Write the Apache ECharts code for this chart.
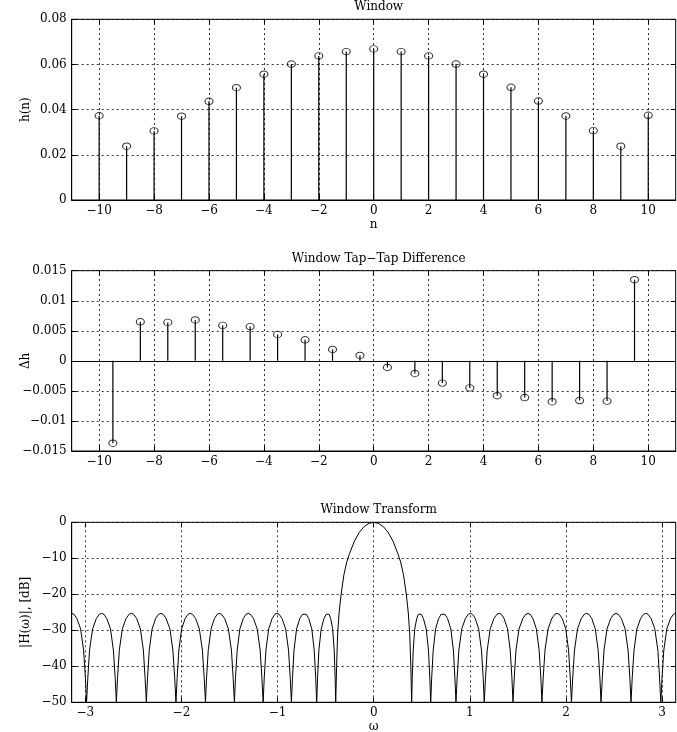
<!DOCTYPE html>
<html><head><meta charset="utf-8">
<script src="https://cdn.jsdelivr.net/npm/echarts@6/dist/echarts.min.js"></script>
<style>html,body{margin:0;padding:0;background:#fff}#c{width:677px;height:732px}</style>
</head><body><div id="c"></div>
<script>
// ---------- data ----------
const nValues = [-10,-9,-8,-7,-6,-5,-4,-3,-2,-1,0,1,2,3,4,5,6,7,8,9,10];
const hValues = [0.0373,0.0238,0.0306,0.0371,0.0437,0.0497,0.0557,0.0602,0.0638,0.0657,0.0669,
                 0.0657,0.0638,0.0602,0.0557,0.0499,0.0438,0.0372,0.0307,0.0238,0.0375];
const dnValues = [-9.5,-8.5,-7.5,-6.5,-5.5,-4.5,-3.5,-2.5,-1.5,-0.5,0.5,1.5,2.5,3.5,4.5,5.5,6.5,7.5,8.5,9.5];
const dhValues = [-0.0137,0.0065,0.0064,0.0068,0.0059,0.0057,0.0044,0.0035,0.0019,0.0009,
                  -0.0011,-0.0021,-0.0037,-0.0045,-0.0058,-0.0061,-0.0068,-0.0066,-0.0067,0.0135];
const nTicks = [-10,-8,-6,-4,-2,0,2,4,6,8,10];
const wTicks = [-3,-2,-1,0,1,2,3];
const transformOmega = [
 -3.1416,-3.118,-3.088,-3.049,-3.018,-2.999,-2.987,
 -2.974,-2.956,-2.924,-2.885,-2.854,-2.830,-2.807,-2.777,-2.738,-2.708,-2.689,-2.677,
 -2.665,-2.646,-2.615,-2.576,-2.544,-2.521,-2.498,-2.466,-2.427,-2.396,-2.378,-2.365,
 -2.353,-2.335,-2.305,-2.268,-2.238,-2.215,-2.191,-2.160,-2.120,-2.089,-2.070,-2.057,
 -2.045,-2.027,-1.998,-1.961,-1.931,-1.909,-1.885,-1.853,-1.814,-1.782,-1.763,-1.750,
 -1.739,-1.721,-1.692,-1.656,-1.628,-1.606,-1.583,-1.551,-1.512,-1.480,-1.462,-1.449,
 -1.438,-1.420,-1.392,-1.356,-1.328,-1.306,-1.283,-1.251,-1.212,-1.181,-1.163,-1.150,
 -1.139,-1.121,-1.092,-1.056,-1.028,-1.006,-0.984,-0.954,-0.916,-0.886,-0.868,-0.856,
 -0.845,-0.829,-0.802,-0.768,-0.741,-0.721,-0.702,-0.676,-0.644,-0.619,-0.603,-0.593,
 -0.584,-0.570,-0.546,-0.517,-0.494,-0.476,-0.464,-0.448,-0.427,-0.411,-0.401,-0.395,
 -0.386,-0.375,-0.36,-0.34,-0.31,-0.28,-0.25,-0.2,-0.15,-0.1,-0.05,0,
 0.05,0.1,0.15,0.2,0.25,0.28,0.31,0.34,0.36,0.375,0.386,0.395,
 0.401,0.411,0.427,0.448,0.464,0.476,0.494,0.517,0.546,0.570,0.584,0.593,
 0.603,0.619,0.644,0.676,0.702,0.721,0.741,0.768,0.802,0.829,0.845,0.856,
 0.868,0.886,0.916,0.954,0.984,1.006,1.028,1.056,1.092,1.121,1.139,1.150,
 1.163,1.181,1.212,1.251,1.283,1.306,1.328,1.356,1.392,1.420,1.438,1.449,
 1.462,1.480,1.512,1.551,1.583,1.606,1.628,1.656,1.692,1.721,1.739,1.750,
 1.763,1.782,1.814,1.853,1.885,1.909,1.931,1.961,1.998,2.027,2.045,2.057,
 2.070,2.089,2.120,2.160,2.191,2.215,2.238,2.268,2.305,2.335,2.353,2.365,
 2.378,2.396,2.427,2.466,2.498,2.521,2.544,2.576,2.615,2.646,2.665,2.677,
 2.689,2.708,2.738,2.777,2.807,2.830,2.854,2.885,2.924,2.956,2.974,2.987,
 2.999,3.018,3.049,3.088,3.118,3.1416
];
const transformDb = [
 -25.3,-25.55,-26.7,-29.6,-35.5,-43.3,-50,
 -43.3,-35.5,-29.6,-26.7,-25.55,-25.3,-25.55,-26.7,-29.6,-35.5,-43.3,-50,
 -43.3,-35.5,-29.6,-26.7,-25.55,-25.3,-25.55,-26.7,-29.6,-35.5,-43.3,-50,
 -43.3,-35.5,-29.6,-26.7,-25.55,-25.3,-25.55,-26.7,-29.6,-35.5,-43.3,-50,
 -43.3,-35.5,-29.6,-26.7,-25.55,-25.3,-25.55,-26.7,-29.6,-35.5,-43.3,-50,
 -43.3,-35.5,-29.6,-26.7,-25.55,-25.3,-25.55,-26.7,-29.6,-35.5,-43.3,-50,
 -43.3,-35.5,-29.6,-26.7,-25.55,-25.3,-25.55,-26.7,-29.6,-35.5,-43.3,-50,
 -43.3,-35.5,-29.6,-26.7,-25.55,-25.3,-25.55,-26.7,-29.6,-35.5,-43.3,-50,
 -43.3,-35.5,-29.6,-26.7,-25.55,-25.3,-25.55,-26.7,-29.6,-35.5,-43.3,-50,
 -43.3,-35.5,-29.6,-26.7,-25.55,-25.3,-25.55,-26.7,-29.6,-35.5,-43.3,-50,
 -40,-31,-25.2,-20.2,-14.6,-11,-8.6,-5.2,-2.8,-1.2,-0.3,0,
 -0.3,-1.2,-2.8,-5.2,-8.6,-11,-14.6,-20.2,-25.2,-31,-40,-50,
 -43.3,-35.5,-29.6,-26.7,-25.55,-25.3,-25.55,-26.7,-29.6,-35.5,-43.3,-50,
 -43.3,-35.5,-29.6,-26.7,-25.55,-25.3,-25.55,-26.7,-29.6,-35.5,-43.3,-50,
 -43.3,-35.5,-29.6,-26.7,-25.55,-25.3,-25.55,-26.7,-29.6,-35.5,-43.3,-50,
 -43.3,-35.5,-29.6,-26.7,-25.55,-25.3,-25.55,-26.7,-29.6,-35.5,-43.3,-50,
 -43.3,-35.5,-29.6,-26.7,-25.55,-25.3,-25.55,-26.7,-29.6,-35.5,-43.3,-50,
 -43.3,-35.5,-29.6,-26.7,-25.55,-25.3,-25.55,-26.7,-29.6,-35.5,-43.3,-50,
 -43.3,-35.5,-29.6,-26.7,-25.55,-25.3,-25.55,-26.7,-29.6,-35.5,-43.3,-50,
 -43.3,-35.5,-29.6,-26.7,-25.55,-25.3,-25.55,-26.7,-29.6,-35.5,-43.3,-50,
 -43.3,-35.5,-29.6,-26.7,-25.55,-25.3,-25.55,-26.7,-29.6,-35.5,-43.3,-50,
 -43.3,-35.5,-29.6,-26.7,-25.55,-25.3
];

// ---------- styling / layout ----------
const FONT = 'DejaVu Serif';
const txt = {color:'#000', fontFamily:FONT, fontSize:12};
const fmt = v => String(parseFloat(Number(v).toFixed(6))).replace('-', '\u2212');
const dotted = {color:'#000', type:[2,3], width:0.8};
const L = 71.7, W = 604;
const grids = [
  {left:L, top:19.3, width:W, height:180.7},
  {left:L, top:270.7, width:W, height:180.3},
  {left:L, top:522.3, width:W, height:180}
].map(g => Object.assign(g, {show:true, borderColor:'#000', borderWidth:1, backgroundColor:'transparent',
                             containLabel:false, outerBoundsMode:'none'}));

function xPair(gi, min, max, ticks, name) {
  return [
    {type:'value', gridIndex:gi, min, max, position:'bottom',
     axisLine:{show:true, onZero:false, lineStyle:{color:'#000', width:1}},
     axisTick:{show:true, inside:true, length:5, customValues:ticks, lineStyle:{color:'#000'}},
     axisLabel:Object.assign({customValues:ticks, formatter:fmt, margin:5}, txt),
     splitLine:{show:false},
     name:name||'', nameLocation:'middle', nameGap:19, nameMoveOverlap:false, nameTextStyle:txt},
    {type:'value', gridIndex:gi, min, max, position:'top',
     axisLine:{show:false, onZero:false},
     axisTick:{show:true, inside:true, length:5, customValues:ticks, lineStyle:{color:'#000'}},
     axisLabel:{show:false}, splitLine:{show:false}}
  ];
}
function yPair(gi, min, max, interval, name) {
  return [
    {type:'value', gridIndex:gi, min, max, interval, position:'left',
     axisLine:{show:true, onZero:false, lineStyle:{color:'#000', width:1}},
     axisTick:{show:true, inside:true, length:5, lineStyle:{color:'#000'}},
     axisLabel:Object.assign({formatter:fmt, margin:5}, txt),
     splitLine:{show:true, lineStyle:dotted},
     name, nameLocation:'middle', nameRotate:90, nameGap:40, nameMoveOverlap:false, nameTextStyle:txt},
    {type:'value', gridIndex:gi, min, max, interval, position:'right',
     axisLine:{show:false, onZero:false},
     axisTick:{show:true, inside:true, length:5, lineStyle:{color:'#000'}},
     axisLabel:{show:false}, splitLine:{show:false}}
  ];
}
const vGrid = ticks => ({silent:true, symbol:'none', label:{show:false}, animation:false,
  lineStyle:dotted, emphasis:{disabled:true}, data:ticks.map(v => ({xAxis:v}))});

const stemData = nValues.map((n,i) => [n, hValues[i]]);
const diffData = dnValues.map((n,i) => [n, dhValues[i]]);
const transData = transformOmega.map((w,i) => [w, transformDb[i]]);
const marker = {symbol:'circle', symbolSize:[8,6.5],
  itemStyle:{color:'transparent', borderColor:'#000', borderWidth:1}};

const mlDiff = vGrid(nTicks);
mlDiff.data.push({yAxis:0, lineStyle:{type:'solid', color:'#000', width:1}});

const titleStyle = Object.assign({fontWeight:'normal'}, txt);
const option = {
  animation:false,
  backgroundColor:'#fff',
  title:[
    {text:'Window', left:373.7, textAlign:'center', top:-4, textStyle:titleStyle},
    {text:'Window Tap\u2212Tap Difference', left:373.7, textAlign:'center', top:247.5, textStyle:titleStyle},
    {text:'Window Transform', left:373.7, textAlign:'center', top:499, textStyle:titleStyle}
  ],
  grid:grids,
  xAxis:[...xPair(0,-11,11,nTicks,'n'), ...xPair(1,-11,11,nTicks,''), ...xPair(2,-Math.PI,Math.PI,wTicks,'\u03c9')],
  yAxis:[...yPair(0,0,0.08,0.02,'h(n)'), ...yPair(1,-0.015,0.015,0.005,'\u0394h'), ...yPair(2,-50,0,10,'|H(\u03c9)|, [dB]')],
  series:[
    {type:'bar', xAxisIndex:0, yAxisIndex:0, data:stemData, barWidth:1.2, itemStyle:{color:'#000'}, markLine:vGrid(nTicks), z:2},
    Object.assign({type:'scatter', xAxisIndex:0, yAxisIndex:0, data:stemData, z:3}, marker),
    {type:'bar', xAxisIndex:2, yAxisIndex:2, data:diffData, barWidth:1.2, itemStyle:{color:'#000'}, markLine:mlDiff, z:2},
    Object.assign({type:'scatter', xAxisIndex:2, yAxisIndex:2, data:diffData, z:3}, marker),
    {type:'line', xAxisIndex:4, yAxisIndex:4, data:transData, showSymbol:false, clip:true,
     lineStyle:{color:'#000', width:1}, markLine:vGrid(wTicks), z:2}
  ]
};
const chart = echarts.init(document.getElementById('c'), null, {renderer:'canvas'});
chart.setOption(option);
</script></body></html>
